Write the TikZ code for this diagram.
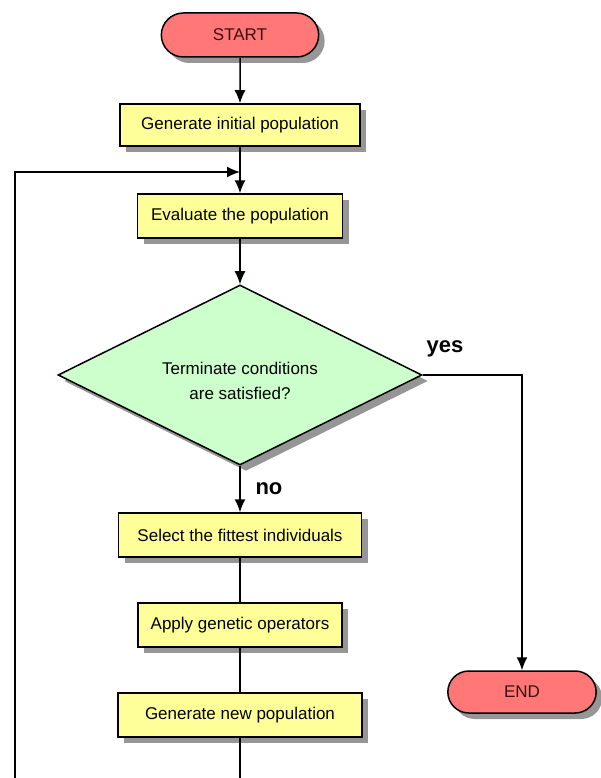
\documentclass[tikz,border=0pt]{standalone}
\usepackage{fontspec}
\setmainfont{Liberation Sans}
\usepackage{tikz}
\usetikzlibrary{arrows.meta,positioning,shapes,shapes.geometric,shapes.misc,shadows}
\definecolor{pillred}{RGB}{255,119,119}
\definecolor{boxyellow}{RGB}{255,255,153}
\definecolor{diagreen}{RGB}{204,255,204}
\definecolor{shadowgray}{RGB}{150,150,150}
\definecolor{pilltext}{RGB}{60,15,15}
\tikzset{%
	boxshadow/.style = {drop shadow={shadow xshift=6pt, shadow yshift=-6pt, fill=shadowgray, opacity=1}},
	startstop/.style = {draw, rounded rectangle, line width=1.5pt, fill=pillred, text=pilltext, minimum width=164pt, minimum height=44pt, text centered, boxshadow},
	process/.style   = {draw, rectangle, line width=1.5pt, fill=boxyellow, minimum height=44pt, text centered, boxshadow},
	decision/.style  = {draw, diamond, aspect=2, line width=1.5pt, fill=diagreen, minimum width=364pt, minimum height=180pt, inner sep=0pt, align=center, font=\fontsize{17}{25}\selectfont, boxshadow},
	arrow/.style     = {line width=1.5pt, -{Latex[length=13pt,width=11pt]}},
	link/.style      = {line width=1.5pt},
	answer/.style    = {font=\fontsize{22}{26}\selectfont\bfseries},
}
\begin{document}
\begin{tikzpicture}[x=1pt, y=-1pt, font=\fontsize{17}{21}\selectfont]
	\useasboundingbox (0,0) rectangle (601,778);
	
	\node[startstop] (start) at (240,35) {START};
	\node[process, minimum width=240pt, minimum height=42pt] (geninit) at (240,125) {Generate initial population};
	\node[process, minimum width=205pt] (eval) at (240,216) {Evaluate the population};
	\node[decision] (term) at (240,375) {\rule{0pt}{25pt}Terminate conditions\\are satisfied?};
	\node[process, minimum width=243pt] (select) at (240,535) {Select the fittest individuals};
	\node[process, minimum width=204pt] (apply) at (240,625) {Apply genetic operators};
	\node[process, minimum width=244pt] (gennew) at (240,715) {Generate new population};
	\node[startstop, minimum width=155pt, minimum height=42pt] (stop) at (522,692) {END};
	
	\node[answer, anchor=base west] (yes) at (423,352) {yes};
	\node[answer, anchor=base west] (no) at (252,494) {no};
	
	\coordinate (loopbot) at (15,778);
	\coordinate (loopin) at (240,172);
	\coordinate (downbot) at (240,778);
	
	\draw[arrow] (start) -- (geninit);
	\draw[arrow] (geninit) -- (eval);
	\draw[arrow] (loopbot) |- (loopin);
	\draw[arrow] (eval) -- (term);
	\draw[arrow] (term.east) -| (stop.north);
	\draw[arrow] (term) -- (select);
	\draw[link] (select) -- (apply);
	\draw[link] (apply) -- (gennew);
	\draw[link] (gennew) -- (downbot);
\end{tikzpicture}
\end{document}
